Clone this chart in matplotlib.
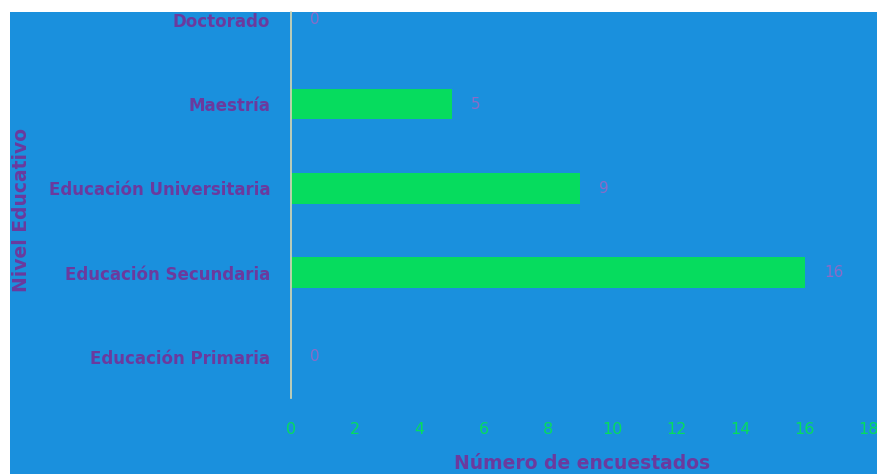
import matplotlib.pyplot as plt
from matplotlib.patches import Rectangle

niveles = ['Educación Primaria', 'Educación Secundaria', 'Educación Universitaria',
           'Maestría', 'Doctorado']
encuestados = [0, 16, 9, 5, 0]
xticks = [0, 2, 4, 6, 8, 10, 12, 14, 16, 18]

fondo = '#1a90dd'
verde = '#06dc5e'
morado = '#6b3a9e'
morado_claro = '#8a6cc8'

W, H = 878, 474
fig = plt.figure(figsize=(W / 100, H / 100), dpi=100, facecolor='white')
# blue panel (starts a little in from the top-left corner)
fig.patches.append(Rectangle((10 / W, 0), 1 - 10 / W, 1 - 12 / H,
                             transform=fig.transFigure, facecolor=fondo,
                             edgecolor='none', zorder=-1))

ax = fig.add_axes([291 / W, 1 - 398 / H, (869 - 291) / W, (398 - 12) / H])
ax.set_zorder(2)
ax.patch.set_alpha(0)

y = range(len(niveles))
ax.barh(y, encuestados, height=0.36, color=verde)
for yi, v in zip(y, encuestados):
    ax.text(v + 0.6, yi, str(v), va='center', ha='left', fontsize=11,
            color=morado_claro, clip_on=False)

ax.set_xlim(0, 18)
ax.set_ylim(-0.49, 4.095)
ax.set_yticks(list(y))
ax.set_yticklabels(niveles, fontsize=12, fontweight='bold', color=morado)
ax.set_xticks(xticks)
ax.set_xticklabels([str(t) for t in xticks], fontsize=11.5, color=verde)
ax.tick_params(axis='y', length=0, pad=15)
ax.tick_params(axis='x', length=0, pad=17)

for s in ['top', 'right', 'bottom']:
    ax.spines[s].set_visible(False)
ax.spines['left'].set_color('#d8d8b0')
ax.spines['left'].set_linewidth(1.2)

fig.text(582 / W, 1 / H, 'Número de encuestados', ha='center', va='bottom',
         fontsize=13.5, fontweight='bold', color=morado)
fig.text(22 / W, 1 - 210 / H, 'Nivel Educativo', rotation=90, ha='center',
         va='center', fontsize=13.5, fontweight='bold', color=morado)

fig.savefig('out.png', dpi=100, facecolor='white')
